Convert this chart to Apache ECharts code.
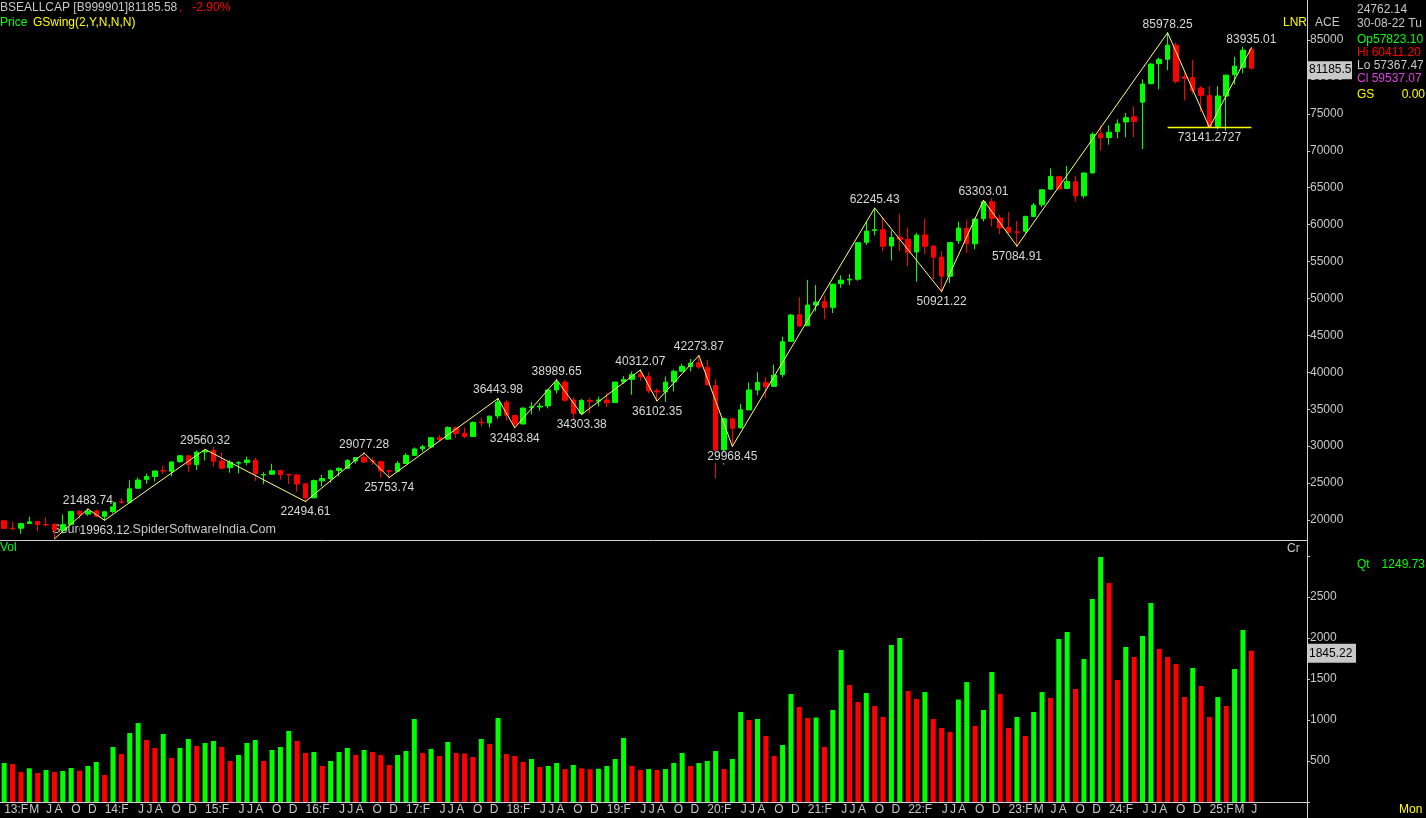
<!DOCTYPE html>
<html><head><meta charset="utf-8">
<script src="https://cdn.jsdelivr.net/npm/echarts/dist/echarts.min.js"></script>
<style>html,body{margin:0;padding:0;background:#000;overflow:hidden}#c{width:1426px;height:818px}</style>
</head><body><div id="c"></div>
<script>
// ---------- DATA ----------
const months = [
 '2013-02','2013-03','2013-04','2013-05','2013-06','2013-07','2013-08','2013-09','2013-10','2013-11','2013-12',
 '2014-01','2014-02','2014-03','2014-04','2014-05','2014-06','2014-07','2014-08','2014-09','2014-10','2014-11','2014-12',
 '2015-01','2015-02','2015-03','2015-04','2015-05','2015-06','2015-07','2015-08','2015-09','2015-10','2015-11','2015-12',
 '2016-01','2016-02','2016-03','2016-04','2016-05','2016-06','2016-07','2016-08','2016-09','2016-10','2016-11','2016-12',
 '2017-01','2017-02','2017-03','2017-04','2017-05','2017-06','2017-07','2017-08','2017-09','2017-10','2017-11','2017-12',
 '2018-01','2018-02','2018-03','2018-04','2018-05','2018-06','2018-07','2018-08','2018-09','2018-10','2018-11','2018-12',
 '2019-01','2019-02','2019-03','2019-04','2019-05','2019-06','2019-07','2019-08','2019-09','2019-10','2019-11','2019-12',
 '2020-01','2020-02','2020-03','2020-04','2020-05','2020-06','2020-07','2020-08','2020-09','2020-10','2020-11','2020-12',
 '2021-01','2021-02','2021-03','2021-04','2021-05','2021-06','2021-07','2021-08','2021-09','2021-10','2021-11','2021-12',
 '2022-01','2022-02','2022-03','2022-04','2022-05','2022-06','2022-07','2022-08','2022-09','2022-10','2022-11','2022-12',
 '2023-01','2023-02','2023-03','2023-04','2023-05','2023-06','2023-07','2023-08','2023-09','2023-10','2023-11','2023-12',
 '2024-01','2024-02','2024-03','2024-04','2024-05','2024-06','2024-07','2024-08','2024-09','2024-10','2024-11','2024-12',
 '2025-01','2025-02','2025-03','2025-04','2025-05','2025-06','2025-07'
];
const xTickLabels = [
 '13:F','','','M','','J','A','','O','','D',
 '','14:F','','','','J','J','A','','O','','D',
 '','15:F','','','','J','J','A','','O','','D',
 '','16:F','','','','J','J','A','','O','','D',
 '','17:F','','','','J','J','A','','O','','D',
 '','18:F','','','','J','J','A','','O','','D',
 '','19:F','','','','J','J','A','','O','','D',
 '','20:F','','','','J','J','A','','O','','D',
 '','21:F','','','','J','J','A','','O','','D',
 '','22:F','','','','J','J','A','','O','','D',
 '','23:F','','','M','','J','A','','O','','D',
 '','24:F','','','','J','J','A','','O','','D',
 '','25:F','','','M','','J'
];
// monthly [open, high, low, close]
const ohlc = [
 [19900,19966,18793,18862],[18890,19754,18568,18836],[18890,19622,18144,19504],[19530,20443,19451,19760],
 [19800,19860,18467,19396],[19400,20351,19127,19346],[19400,19569,17448.71,18620],[18600,20739,18166,19380],
 [19400,21205,19265,21165],[21200,21321,20137,20792],[20800,21483.74,20568,21171],
 [21222,21410,20343,20514],[20500,21141,19963.12,21120],[21150,22467,20921,22386],[22455,22939,22197,22418],
 [22400,25376,22277,24217],[24300,25735,24270,25414],[25500,26300,24892,25895],[25900,26675,25232,26638],
 [26700,27355,26220,26631],[26600,27894,25910,27866],[27900,28822,27739,28694],[28700,28809,26469,27499],
 [27500,29408,26776,29183],[29200,29560.32,28044,29361],[29400,30025,27248,27957],[28000,29094,26898,27011],
 [27100,28071,26424,27828],[27700,27969,26307,27781],[27800,28578,27417,28115],[28100,28418,25298,26283],
 [26100,26471,24834,26155],[26200,27618,26120,26657],[26700,26824,25451,26146],[26150,26256,24868,26118],
 [26100,26197,23840,24871],[24900,24940,22494.61,23002],[23000,25479,22970,25342],[25300,26100,24523,25607],
 [25600,26837,25057,26668],[26700,27105,25911,26999],[27000,28240,26996,28052],[28000,28532,27628,28452],
 [28500,29077.28,27716,27866],[28000,28478,27488,27930],[27900,28029,25718,26653],[26650,26803,25753.74,26626],
 [26600,27981,26447,27656],[27650,29066,27590,28743],[28750,29825,28716,29621],[29650,30185,29241,29918],
 [29900,31256,29804,31146],[31150,31523,30680,30922],[30950,32673,30875,32515],[32500,32686,31128,31730],
 [31750,32524,31081,31284],[31300,33341,31288,33213],[33250,33865,32684,33149],[33150,34138,32566,34057],
 [34100,36443.98,33704,35965],[35950,36256,33482,34184],[34150,34278,32483.84,32969],[33000,35213,32973,35160],
 [35200,35994,34303,35322],[35300,35877,34785,35423],[35450,37645,35107,37607],[37600,38989.65,37129,38645],
 [38650,38934,35986,36227],[36250,36616,33292,34442],[34450,36389,34303.38,36194],[36200,36555,34426,36068],
 [36100,36702,35375,36257],[36250,37172,35287,35867],[35900,38748,35860,38673],[38700,39487,38460,39032],
 [39050,40124,36957,39714],[39750,40312.07,38871,39395],[39400,40032,37128,37481],[37500,37808,36102.35,37333],
 [37350,39442,35988,38667],[38700,40392,37415,40129],[40150,41163,40015,40794],[40800,41810,40136,41254],
 [41300,42273.87,40477,40723],[40700,41709,38220,38297],[38200,39083,25639,29468],[29500,33887,27500,33718],
 [33700,33700,29968.45,32424],[32500,35707,32348,34916],[34900,38618,34900,37607],[37600,40010,36912,38628],
 [38600,39360,36495,38068],[38100,41048,38100,39614],[39700,44825,39334,44150],[44200,47896,44118,47751],
 [47800,50184,46160,46286],[46300,52517,46300,49100],[49100,51821,48236,49509],[49600,50375,47204,48782],
 [48800,52013,48028,51937],[52000,53127,51451,52483],[52500,53290,51802,52587],[52600,57625,52404,57552],
 [57600,60413,57263,59126],[59200,62245.43,58551,59307],[59300,61036,56383,57065],[57100,59203,55132,58254],
 [58300,61475,56410,58014],[58000,59618,54384,56247],[56300,58890,52260,58569],[58600,60845,56009,57061],
 [57100,57184,52632,55566],[55600,56432,50921.22,53019],[53000,57619,52094,57570],[57823.10,60411.20,57367.47,59537.07],
 [59500,60676,56147,57427],[57400,60786,56683,60747],[60800,63303.01,60425,63100],[63100,63583,59755,60841],
 [60900,61343,58699,59550],[59600,61682,58795,58962],[59000,60498,57084.91,58992],[59100,61209,58794,61112],
 [61100,62934,61002,62622],[62700,64768,62359,64719],[64800,67620,64700,66528],[66500,66658,64723,64831],
 [64900,67927,64819,65828],[65800,66593,63092,63875],[63900,67070,63550,66988],[67000,72484,66900,72240],
 [72300,73428,70001,71752],[71800,73414,70810,72500],[72600,74245,71674,73651],[73900,75124,71816,74483],
 [74600,76010,71867,73961],[76583,79672,70234,79033],[79100,81908,78971,81741],[81800,82637,78295,82365],
 [82400,85978.25,80895,84300],[84300,84648,79138,79389],[80023,80570,76802,79803],[79900,82318,77720,78139],
 [78500,78741,75267,77501],[77500,78735,73141.27,73198],[73300,78742,72900,77415],[77400,80321,72700,80242],
 [80300,82718,78968,81451],[81300,84099,80493,83606.46],[83750,83935.01,80986,81185.58]
];
// monthly volume (Cr)
const volumes = [
 476,463,366,411,354,390,366,378,415,382,439,488,329,671,585,841,963,756,659,829,
 537,659,768,683,720,744,671,500,573,720,756,500,634,671,866,744,598,610,439,500,
 610,659,573,634,610,573,451,573,622,1012,598,646,561,732,598,592,549,768,707,1024,
 585,561,488,524,427,439,476,402,451,410,400,405,439,524,780,439,390,402,390,402,
 476,598,439,476,500,622,402,524,1098,1000,1012,805,561,695,1317,1159,1024,1030,671,1122,
 1854,1427,1220,1329,1171,1037,1915,2000,1354,1256,1341,1012,902,854,1249.73,1463,927,1122,1585,1317,
 902,1037,805,1098,1341,1268,1988,2073,1378,1744,2476,2988,2671,1488,1890,1768,2024,2427,1866,1768,
 1683,1280,1634,1415,1037,1280,1171,1622,2098,1845.22
];
// GSwing zig-zag pivots
const swingIdx = [6,10,12,24,36,43,46,59,61,66,69,76,78,83,87,104,112,117,121,139,144,149];
const swingVal = [17448.71,21483.74,19963.12,29560.32,22494.61,29077.28,25753.74,36443.98,32483.84,38989.65,34303.38,
                  40312.07,36102.35,42273.87,29968.45,62245.43,50921.22,63303.01,57084.91,85978.25,73141.2727,83935.01];
const swingText = ['','21483.74','19963.12','29560.32','22494.61','29077.28','25753.74','36443.98','32483.84','38989.65','34303.38',
                  '40312.07','36102.35','42273.87','29968.45','62245.43','50921.22','63303.01','57084.91','85978.25','73141.2727','83935.01'];
const supportFrom = 139, supportTo = 149, supportVal = 73141.2727;
const cursorIdx = 114;
const cursorDate = '30-08-22 Tu';
const cursorY = '24762.14';

// ---------- CHART ----------
const GRAY = '#c8c8c8', GREEN = '#00ff00', RED = '#ff0000', YEL = '#ffff00', MAG = '#e040e0';
const FONT = 'Liberation Sans';
const plotW = 1255.5, axisX = 1307;
const chart = echarts.init(document.getElementById('c'), null, {renderer: 'canvas', width: 1426, height: 818});

const n = ohlc.length;
const lastClose = ohlc[n - 1][3];
const prevClose = ohlc[n - 2][3];
const pct = (lastClose - prevClose) / prevClose * 100;
const cur = ohlc[cursorIdx];

function txt(id, x, y, text, fill, extra, size) {
  return Object.assign({type: 'text', id: id, x: x, y: y, z: 50,
    style: Object.assign({text: text, fill: fill, font: (size || 12) + 'px "' + FONT + '"', textVerticalAlign: 'middle', verticalAlign: 'middle'}, extra || {})});
}
function line(id, x1, y1, x2, y2, c, w) {
  return {type: 'line', id: id, z: 40, shape: {x1: x1, y1: y1, x2: x2, y2: y2}, style: {stroke: c, lineWidth: w || 1}};
}

const staticGraphics = [
  line('vline', axisX + 0.5, 0, axisX + 0.5, 818, '#d0d0d0'),
  line('sep', 0, 540.5, axisX, 540.5, '#d0d0d0'),
  line('bot', 0, 802.5, axisX, 802.5, '#d0d0d0'),
  txt('t1', 0, 8, 'BSEALLCAP [B999901]' + lastClose.toFixed(2), GRAY),
  txt('t2', 179, 8, ',   ' + pct.toFixed(2) + '%', RED),
  txt('t3', 0, 23, 'Price', GREEN),
  txt('t4', 33, 23, 'GSwing(2,Y,N,N,N)', YEL),
  txt('lnr', 1283, 23, 'LNR', YEL),
  txt('ace', 1315, 23, 'ACE', GRAY),
  txt('r1', 1357, 10, cursorY, GRAY),
  txt('r2', 1357, 24, cursorDate, GRAY),
  txt('r3', 1357, 40, 'Op' + cur[0].toFixed(2), GREEN),
  txt('r4', 1357, 53, 'Hi ' + cur[1].toFixed(2), RED),
  txt('r5', 1357, 66, 'Lo ' + cur[2].toFixed(2), GRAY),
  txt('r6', 1357, 79, 'Cl ' + cur[3].toFixed(2), MAG),
  txt('r7', 1357, 95, 'GS', YEL),
  txt('r7v', 1425, 95, '0.00', YEL, {textAlign: 'right', align: 'right'}),
  txt('vol', 0, 548, 'Vol', GREEN),
  txt('cr', 1287, 549, 'Cr', GRAY),
  txt('qt', 1357, 565, 'Qt', GREEN),
  txt('qtv', 1425, 565, volumes[cursorIdx].toFixed(2), GREEN, {textAlign: 'right', align: 'right'}),
  txt('mon', 1399, 810, 'Mon', YEL),
  Object.assign(txt('src', 52, 530, 'Source : www.SpiderSoftwareIndia.Com', GRAY, null, 12.6), {z: 0})
];

const swingData = swingIdx.map((i, k) => ({
  value: [i, swingVal[k]],
  label: {
    show: swingText[k] !== '',
    formatter: swingText[k],
    position: (k % 2 === 1) ? 'top' : 'bottom',
    distance: (k % 2 === 1) ? 2 : 4
  }
}));

const option = {
  backgroundColor: '#000',
  animation: false,
  grid: [
    {left: 0, top: 40, width: plotW, height: 480},
    {left: 0, top: 556, width: plotW, height: 246}
  ],
  xAxis: [
    {type: 'category', gridIndex: 0, data: months, boundaryGap: true, show: false},
    {type: 'category', gridIndex: 1, data: months, boundaryGap: true,
     axisLine: {show: false}, axisTick: {show: false}, splitLine: {show: false},
     axisLabel: {interval: 0, hideOverlap: false, formatter: (v, i) => xTickLabels[i], align: 'left',
       color: GRAY, fontSize: 12, fontFamily: FONT, margin: 2}}
  ],
  yAxis: [
    {type: 'value', gridIndex: 0, position: 'right', offset: axisX - plotW, min: 20000, max: 85000, interval: 5000,
     axisLine: {show: false}, splitLine: {show: false},
     axisTick: {show: true, length: 3, lineStyle: {color: GRAY}},
     axisLabel: {color: GRAY, fontSize: 12, fontFamily: FONT, margin: 3, formatter: v => String(v)}},
    {type: 'value', gridIndex: 1, position: 'right', offset: axisX - plotW, min: 0, max: 3000, interval: 500,
     axisLine: {show: false}, splitLine: {show: false},
     axisTick: {show: true, length: 3, lineStyle: {color: GRAY}},
     axisLabel: {color: GRAY, fontSize: 12, fontFamily: FONT, margin: 3,
       formatter: v => (v === 0 || v === 3000) ? '' : String(v)}}
  ],
  series: [
    {type: 'candlestick', xAxisIndex: 0, yAxisIndex: 0, barWidth: 5, clip: false, silent: true,
     data: ohlc.map(r => [r[0], r[3], r[2], r[1]]),
     itemStyle: {color: GREEN, color0: RED, borderColor: GREEN, borderColor0: RED, borderWidth: 1}},
    {type: 'line', xAxisIndex: 0, yAxisIndex: 0, clip: false, silent: true, z: 5,
     data: swingData, symbol: 'circle', symbolSize: 1, itemStyle: {color: '#ffff80'},
     lineStyle: {color: '#ffff80', width: 1},
     label: {color: '#d8d8d8', fontSize: 12, fontFamily: FONT, backgroundColor: '#000', padding: 0}},
    {type: 'line', xAxisIndex: 0, yAxisIndex: 0, clip: false, silent: true, z: 5,
     data: [[supportFrom, supportVal], [supportTo, supportVal]], symbol: 'none',
     lineStyle: {color: YEL, width: 1.5}},
    {type: 'bar', xAxisIndex: 1, yAxisIndex: 1, barWidth: 5, silent: true,
     data: volumes.map((v, i) => ({value: v, itemStyle: {color: (i === 0 || v >= volumes[i - 1]) ? GREEN : RED}}))}
  ],
  graphic: staticGraphics
};
chart.setOption(option);

// value boxes on the right axis, positioned through the axis scales
const yP = chart.convertToPixel({yAxisIndex: 0}, lastClose);
const lastVol = volumes[n - 1];
const yV = chart.convertToPixel({yAxisIndex: 1}, lastVol);
const boxes = [
  {type: 'rect', id: 'pbox', z: 60, shape: {x: axisX + 1, y: yP - 7, width: 44, height: 18}, style: {fill: '#c8c8c8'}},
  txt('ptxt', axisX + 2, yP + 2, lastClose.toFixed(2).slice(0, 7), '#000'),
  {type: 'rect', id: 'vbox', z: 60, shape: {x: axisX + 1, y: yV - 7, width: 48, height: 19}, style: {fill: '#c8c8c8'}},
  txt('vtxt', axisX + 2, yV + 2.5, lastVol.toFixed(2), '#000')
];
boxes[1].z = 61; boxes[3].z = 61;
chart.setOption({graphic: staticGraphics.concat(boxes)});
</script></body></html>
